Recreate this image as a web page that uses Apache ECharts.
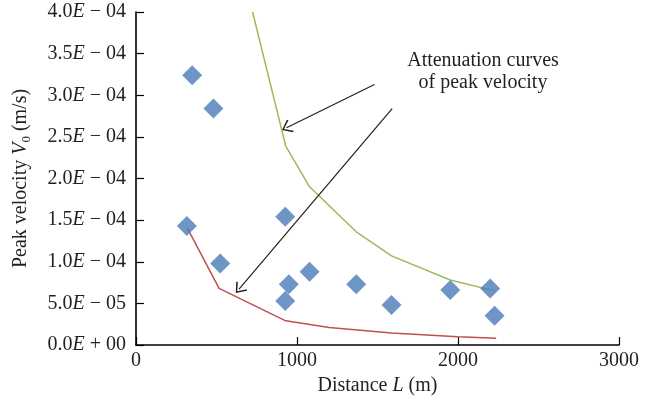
<!DOCTYPE html>
<html>
<head>
<meta charset="UTF-8">
<title>peak velocity attenuation</title>
<script src="https://cdn.jsdelivr.net/npm/echarts@6/dist/echarts.min.js"></script>
<style>
  body { margin: 0; padding: 0; background: #fff; }
  #chart { width: 655px; height: 409px; }
</style>
</head>
<body>
<div id="chart"></div>
<script>
// measured points (distance m, peak velocity m/s)
var ptsX = [349, 481, 316, 523, 927, 949, 927, 1078, 1368, 1587, 1952, 2200, 2227];
var ptsY = [3.24e-4, 2.84e-4, 1.43e-4, 0.98e-4, 1.54e-4, 0.73e-4, 0.53e-4, 0.88e-4, 0.73e-4, 0.48e-4, 0.66e-4, 0.68e-4, 0.35e-4];

// attenuation curves
var greenX = [724, 930, 1078, 1368, 1587, 1952, 2227];
var greenY = [4.0e-4, 2.39e-4, 1.9e-4, 1.36e-4, 1.07e-4, 0.78e-4, 0.65e-4];
var redX = [320, 516, 930, 1200, 1587, 1999, 2237];
var redY = [1.40e-4, 0.68e-4, 0.29e-4, 0.21e-4, 0.145e-4, 0.10e-4, 0.08e-4];

// annotation arrows: [fromX, fromY, toX, toY]
var arrows = [
  [1481, 3.13e-4, 935, 2.61e-4],
  [1591, 2.84e-4, 640, 0.67e-4]
];
var noteText = ['Attenuation curves', 'of peak velocity'];

var FONT = '"Liberation Serif", "DejaVu Serif", serif';
var FS = 20;

function pad2(n) { return (n < 10 ? '0' : '') + n; }
function sciLabel(v) {
  if (v === 0) return '0.0{i|E} + 00';
  var e = Math.floor(Math.log10(v) + 1e-9);
  var m = v / Math.pow(10, e);
  return m.toFixed(1) + '{i|E} \u2212 ' + pad2(-e);
}

function pairs(xs, ys) {
  return xs.map(function (x, i) { return [x, ys[i]]; });
}

var chevron = 'path://M6,0 L12,8 L11,9 L6,2 L1,9 L0,8 Z';
var italic = { fontStyle: 'italic', fontSize: FS, fontFamily: FONT, color: '#231f20' };

var chart = echarts.init(document.getElementById('chart'));
chart.setOption({
  animation: false,
  backgroundColor: '#fff',
  textStyle: { fontFamily: FONT },
  grid: { left: 136, right: 36, top: 12, bottom: 64 },
  xAxis: {
    type: 'value',
    min: 0, max: 3000, interval: 1000,
    splitLine: { show: false },
    axisLine: { lineStyle: { color: '#000', width: 1.6 } },
    axisTick: { inside: true, length: 8, lineStyle: { color: '#000', width: 1.2 } },
    axisLabel: {
      color: '#231f20', fontSize: FS, fontFamily: FONT, margin: 6,
      formatter: function (v) { return String(v); }
    },
    name: 'Distance {i|L} (m)',
    nameLocation: 'middle',
    nameGap: 31,
    nameTextStyle: {
      color: '#231f20', fontSize: FS, fontFamily: FONT,
      rich: { i: italic }
    }
  },
  yAxis: {
    type: 'value',
    min: 0, max: 4e-4, interval: 5e-5,
    splitLine: { show: false },
    axisLine: { show: true, lineStyle: { color: '#000', width: 1.6 } },
    axisTick: { show: true, inside: true, length: 8, lineStyle: { color: '#000', width: 1.2 } },
    axisLabel: {
      color: '#231f20', fontSize: FS, fontFamily: FONT, margin: 10,
      formatter: sciLabel,
      rich: { i: italic }
    },
    name: 'Peak velocity {i|V}{s|0} (m/s)',
    nameLocation: 'middle',
    nameGap: 103,
    nameTextStyle: {
      color: '#231f20', fontSize: FS, fontFamily: FONT,
      rich: {
        i: italic,
        s: { fontSize: 13, fontFamily: FONT, color: '#231f20', padding: [11, 0, 0, 0] }
      }
    }
  },
  series: [
    {
      type: 'line',
      data: pairs(greenX, greenY),
      symbol: 'none',
      lineStyle: { color: '#9bbb59', width: 1.5 },
      z: 2
    },
    {
      type: 'line',
      data: pairs(redX, redY),
      symbol: 'none',
      lineStyle: { color: '#c0504d', width: 1.5 },
      z: 2,
      markLine: {
        silent: true,
        symbol: ['none', chevron],
        symbolSize: [14, 10],
        label: { show: false },
        lineStyle: { color: '#231f20', width: 1.2, type: 'solid' },
        data: arrows.map(function (a) {
          return [{ coord: [a[0], a[1]] }, { coord: [a[2], a[3]] }];
        })
      }
    },
    {
      type: 'scatter',
      data: pairs(ptsX, ptsY),
      symbol: 'diamond',
      symbolSize: 20,
      itemStyle: { color: '#4a7bb7' },
      z: 3
    }
  ],
  graphic: [{
    type: 'text',
    style: {
      text: noteText.join('\n'),
      x: 483, y: 50,
      textAlign: 'center',
      font: FS + 'px ' + FONT,
      lineHeight: 22,
      fill: '#231f20'
    }
  }]
});
</script>
</body>
</html>
